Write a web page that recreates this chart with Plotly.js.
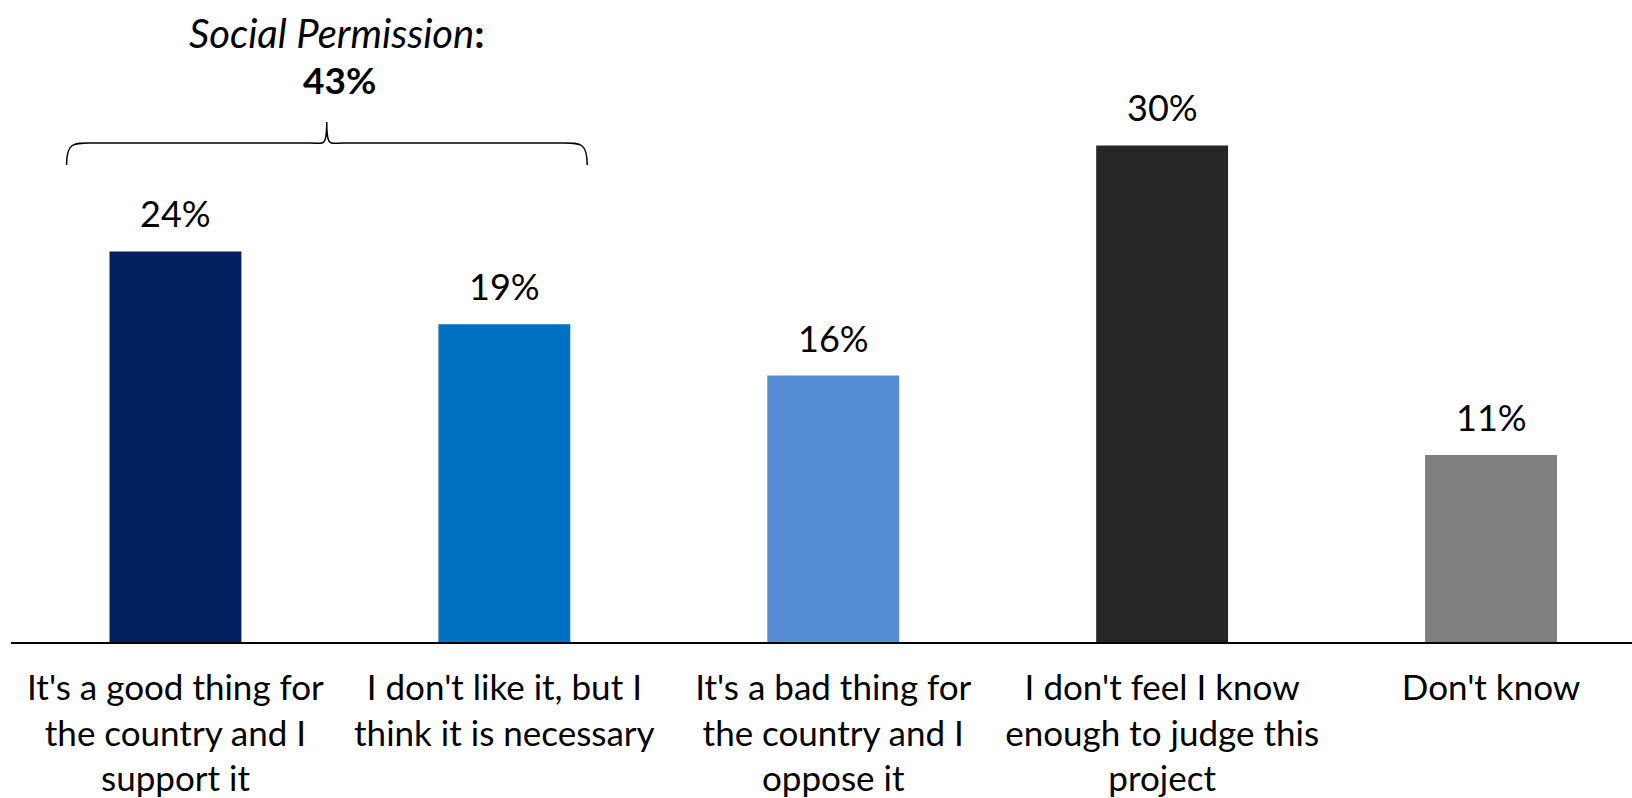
<!DOCTYPE html>
<html>
<head>
<meta charset="utf-8">
<script src="https://cdn.plot.ly/plotly-3.0.1.min.js"></script>
<style>html,body{margin:0;padding:0;background:#fff;}#chart{width:1632px;height:798px;}</style>
</head>
<body>
<div id="chart"></div>
<script>
const categories = [
  "It's a good thing for<br>the country and I<br>support it",
  "I don't like it, but I<br>think it is necessary",
  "It's a bad thing for<br>the country and I<br>oppose it",
  "I don't feel I know<br>enough to judge this<br>project",
  "Don't know"
];
const values = [23.6, 19.2, 16.1, 30.0, 11.3];
const valueLabels = ["24%", "19%", "16%", "30%", "11%"];
const barColors = ["#002060", "#0070C0", "#558ED5", "#262626", "#7F7F7F"];
const groupLabel = "Social Permission";
const groupValue = "43%";

const FONT = "Lato, 'Open Sans', sans-serif";

const trace = {
  type: "bar",
  x: categories,
  y: values,
  width: 0.401,
  marker: {color: barColors, line: {width: 0}},
  hoverinfo: "skip"
};

const annotations = values.map((v, i) => ({
  x: categories[i], y: v, xref: "x", yref: "y",
  text: valueLabels[i], showarrow: false,
  yanchor: "bottom", yshift: 14,
  font: {family: FONT, size: 36, color: "#000"}
}));

annotations.push({
  x: 0.49, y: 1.0, xref: "x", yref: "paper",
  xanchor: "center", yanchor: "middle", yshift: -33,
  text: "<i>" + groupLabel + "</i><b>:</b>",
  showarrow: false, align: "center",
  font: {family: FONT, size: 40, color: "#000"}
});
annotations.push({
  x: 0.50, y: 1.0, xref: "x", yref: "paper",
  xanchor: "center", yanchor: "middle", yshift: -79,
  text: "<b>" + groupValue + "</b>",
  showarrow: false, align: "center",
  font: {family: FONT, size: 37, color: "#000"}
});

// curly brace spanning the first two categories (x in category units, y in data units)
const xl = -0.331, xr = 1.252, xm = 0.46;
const yEnd = 28.82, yMid = 30.15, yTip = 31.42;
const bracePath =
  `M ${xl} ${yEnd} C ${xl} ${yMid} ${xl + 0.02} ${yMid} ${xl + 0.07} ${yMid}` +
  ` L ${xm - 0.05} ${yMid} C ${xm - 0.01} ${yMid} ${xm} ${yMid - 0.3} ${xm} ${yTip}` +
  ` C ${xm} ${yMid - 0.3} ${xm + 0.01} ${yMid} ${xm + 0.05} ${yMid}` +
  ` L ${xr - 0.07} ${yMid} C ${xr - 0.02} ${yMid} ${xr} ${yMid} ${xr} ${yEnd}`;

const layout = {
  width: 1632, height: 798,
  margin: {l: 11, r: 0, t: 0, b: 156, pad: 0},
  paper_bgcolor: "#fff", plot_bgcolor: "#fff",
  showlegend: false,
  bargap: 0.6,
  xaxis: {
    type: "category",
    range: [-0.5, 4.4286],
    showline: true, linecolor: "#000", linewidth: 2,
    ticks: "", showgrid: false, zeroline: false,
    tickfont: {family: FONT, size: 35, color: "#000"},
    ticklabelstandoff: 14,
    fixedrange: true
  },
  yaxis: {
    range: [0, 38.79],
    visible: false, showgrid: false, zeroline: false,
    fixedrange: true
  },
  annotations: annotations,
  shapes: [{
    type: "path", xref: "x", yref: "y",
    path: bracePath,
    line: {color: "#000", width: 1.5}
  }]
};

Plotly.newPlot("chart", [trace], layout, {displayModeBar: false, staticPlot: true});
</script>
</body>
</html>
